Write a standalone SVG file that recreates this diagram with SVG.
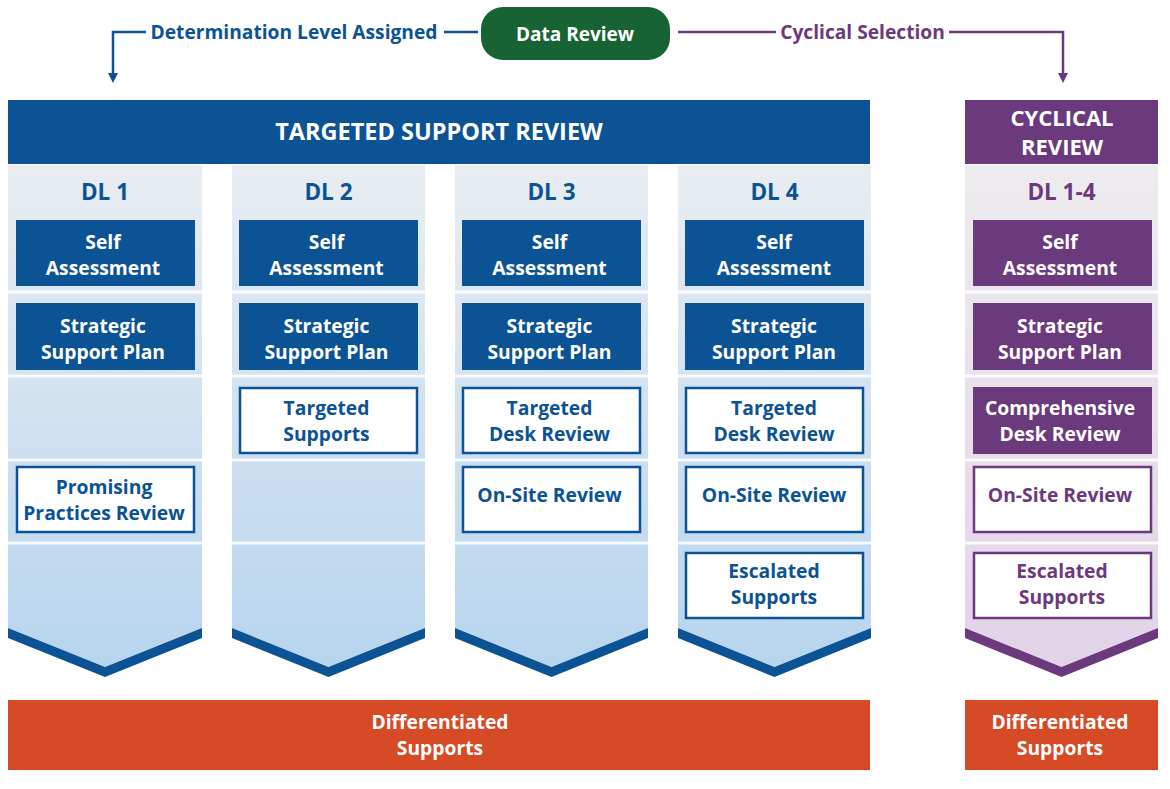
<svg xmlns="http://www.w3.org/2000/svg" width="1170" height="789" viewBox="0 0 1170 789">
<defs>
<linearGradient id="gBlue" x1="0" y1="0" x2="0" y2="1">
<stop offset="0" stop-color="#e9edf2"/>
<stop offset="1" stop-color="#b7d5ef"/>
</linearGradient>
<linearGradient id="gPurple" x1="0" y1="0" x2="0" y2="1">
<stop offset="0" stop-color="#eeecef"/>
<stop offset="1" stop-color="#e2d3e8"/>
</linearGradient>
<style>
text{font-family:"Open Sans","Liberation Sans",sans-serif;font-weight:bold;text-anchor:middle}
.bfill{fill:#0b5394}
.pfill{fill:#6b3a7d}
.bbox{fill:#ffffff;stroke:#0b5394;stroke-width:2.5}
.pbox{fill:#ffffff;stroke:#6b3a7d;stroke-width:2.5}
.wt{fill:#ffffff;font-size:19.3px}
.bt{fill:#0b5394;font-size:19.3px}
.pt{fill:#6b3a7d;font-size:19.3px}
.sep{stroke:#ffffff;stroke-width:3;opacity:0.85}
.dl{font-size:22.5px}
</style>
</defs>
<rect width="1170" height="789" fill="#ffffff"/>

<g id="connectors" fill="none">
<path d="M146,32 H113 V75" stroke="#0b5394" stroke-width="2.5"/>
<path d="M108,73 L118,73 L113,83 Z" fill="#0b5394"/>
<path d="M444,32 H478" stroke="#0b5394" stroke-width="2.5"/>
<path d="M678,32 H776" stroke="#6b3a7d" stroke-width="2.5"/>
<path d="M949,32 H1063 V75" stroke="#6b3a7d" stroke-width="2.5"/>
<path d="M1058,73 L1068,73 L1063,83 Z" fill="#6b3a7d"/>
<text x="294" y="38.5" font-size="19.2" fill="#0b5394">Determination Level Assigned</text>
<text x="862.5" y="38.5" font-size="19.2" fill="#6b3a7d">Cyclical Selection</text>
</g>

<g id="data-review">
<rect x="481" y="7" width="189" height="53" rx="22" fill="#176334"/>
<text x="575" y="41" font-size="19" fill="#ffffff">Data Review</text>
</g>

<g id="targeted-header">
<rect x="8" y="100" width="862" height="64" fill="#0b5394"/>
<text x="439" y="140" font-size="23.5" fill="#ffffff">TARGETED SUPPORT REVIEW</text>
</g>

<g id="cyclical-header">
<rect x="965" y="100" width="193" height="64" fill="#6b3a7d"/>
<text x="1062" y="126" font-size="22" fill="#ffffff">CYCLICAL</text>
<text x="1062" y="155" font-size="22" fill="#ffffff">REVIEW</text>
</g>

<g id="dl1">
<path d="M8,165 H202 V628 L105,667 L8,628 Z" fill="url(#gBlue)"/>
<path d="M8,628 L105,667 L202,628 V638 L105,677 L8,638 Z" class="bfill"/>
<line x1="8" y1="292" x2="202" y2="292" class="sep"/>
<line x1="8" y1="376" x2="202" y2="376" class="sep"/>
<line x1="8" y1="460" x2="202" y2="460" class="sep"/>
<line x1="8" y1="543" x2="202" y2="543" class="sep"/>
<text x="105" y="200" class="bt dl">DL 1</text>
<rect x="16" y="220" width="179" height="66" class="bfill"/>
<text x="103" y="249" class="wt">Self</text>
<text x="103" y="275" class="wt">Assessment</text>
<rect x="16" y="303" width="179" height="67" class="bfill"/>
<text x="103" y="333" class="wt">Strategic</text>
<text x="103" y="359" class="wt">Support Plan</text>
<rect x="17" y="467" width="177" height="65" class="bbox"/>
<text x="104" y="494" class="bt">Promising</text>
<text x="104" y="520" class="bt">Practices Review</text>
</g>

<g id="dl2">
<path d="M232,165 H425 V628 L328.5,667 L232,628 Z" fill="url(#gBlue)"/>
<path d="M232,628 L328.5,667 L425,628 V638 L328.5,677 L232,638 Z" class="bfill"/>
<line x1="232" y1="292" x2="425" y2="292" class="sep"/>
<line x1="232" y1="376" x2="425" y2="376" class="sep"/>
<line x1="232" y1="460" x2="425" y2="460" class="sep"/>
<line x1="232" y1="543" x2="425" y2="543" class="sep"/>
<text x="328.5" y="200" class="bt dl">DL 2</text>
<rect x="239" y="220" width="179" height="66" class="bfill"/>
<text x="326.5" y="249" class="wt">Self</text>
<text x="326.5" y="275" class="wt">Assessment</text>
<rect x="239" y="303" width="179" height="67" class="bfill"/>
<text x="326.5" y="333" class="wt">Strategic</text>
<text x="326.5" y="359" class="wt">Support Plan</text>
<rect x="240" y="388" width="177" height="65" class="bbox"/>
<text x="326.5" y="415" class="bt">Targeted</text>
<text x="326.5" y="441" class="bt">Supports</text>
</g>

<g id="dl3">
<path d="M455,165 H648 V628 L551.5,667 L455,628 Z" fill="url(#gBlue)"/>
<path d="M455,628 L551.5,667 L648,628 V638 L551.5,677 L455,638 Z" class="bfill"/>
<line x1="455" y1="292" x2="648" y2="292" class="sep"/>
<line x1="455" y1="376" x2="648" y2="376" class="sep"/>
<line x1="455" y1="460" x2="648" y2="460" class="sep"/>
<line x1="455" y1="543" x2="648" y2="543" class="sep"/>
<text x="551.5" y="200" class="bt dl">DL 3</text>
<rect x="462" y="220" width="179" height="66" class="bfill"/>
<text x="549.5" y="249" class="wt">Self</text>
<text x="549.5" y="275" class="wt">Assessment</text>
<rect x="462" y="303" width="179" height="67" class="bfill"/>
<text x="549.5" y="333" class="wt">Strategic</text>
<text x="549.5" y="359" class="wt">Support Plan</text>
<rect x="463" y="388" width="177" height="65" class="bbox"/>
<text x="549.5" y="415" class="bt">Targeted</text>
<text x="549.5" y="441" class="bt">Desk Review</text>
<rect x="463" y="467" width="177" height="65" class="bbox"/>
<text x="549.5" y="502" class="bt">On-Site Review</text>
</g>

<g id="dl4">
<path d="M678,165 H871 V628 L774.5,667 L678,628 Z" fill="url(#gBlue)"/>
<path d="M678,628 L774.5,667 L871,628 V638 L774.5,677 L678,638 Z" class="bfill"/>
<line x1="678" y1="292" x2="871" y2="292" class="sep"/>
<line x1="678" y1="376" x2="871" y2="376" class="sep"/>
<line x1="678" y1="460" x2="871" y2="460" class="sep"/>
<line x1="678" y1="543" x2="871" y2="543" class="sep"/>
<text x="774.5" y="200" class="bt dl">DL 4</text>
<rect x="685" y="220" width="179" height="66" class="bfill"/>
<text x="774" y="249" class="wt">Self</text>
<text x="774" y="275" class="wt">Assessment</text>
<rect x="685" y="303" width="179" height="67" class="bfill"/>
<text x="774" y="333" class="wt">Strategic</text>
<text x="774" y="359" class="wt">Support Plan</text>
<rect x="686" y="388" width="177" height="65" class="bbox"/>
<text x="774" y="415" class="bt">Targeted</text>
<text x="774" y="441" class="bt">Desk Review</text>
<rect x="686" y="467" width="177" height="65" class="bbox"/>
<text x="774" y="502" class="bt">On-Site Review</text>
<rect x="686" y="553" width="177" height="65" class="bbox"/>
<text x="774" y="578" class="bt">Escalated</text>
<text x="774" y="604" class="bt">Supports</text>
</g>

<g id="dl1-4">
<path d="M965,165 H1158 V628 L1061.5,667 L965,628 Z" fill="url(#gPurple)"/>
<path d="M965,628 L1061.5,667 L1158,628 V638 L1061.5,677 L965,638 Z" class="pfill"/>
<line x1="965" y1="292" x2="1158" y2="292" class="sep"/>
<line x1="965" y1="376" x2="1158" y2="376" class="sep"/>
<line x1="965" y1="460" x2="1158" y2="460" class="sep"/>
<line x1="965" y1="543" x2="1158" y2="543" class="sep"/>
<text x="1061.5" y="200" class="pt dl">DL 1-4</text>
<rect x="973" y="220" width="179" height="66" class="pfill"/>
<text x="1060" y="249" class="wt">Self</text>
<text x="1060" y="275" class="wt">Assessment</text>
<rect x="973" y="303" width="179" height="67" class="pfill"/>
<text x="1060" y="333" class="wt">Strategic</text>
<text x="1060" y="359" class="wt">Support Plan</text>
<rect x="973" y="387" width="179" height="67" class="pfill"/>
<text x="1060" y="415" class="wt">Comprehensive</text>
<text x="1060" y="441" class="wt">Desk Review</text>
<rect x="974" y="467" width="177" height="65" class="pbox"/>
<text x="1060" y="502" class="pt">On-Site Review</text>
<rect x="974" y="553" width="177" height="65" class="pbox"/>
<text x="1062" y="578" class="pt">Escalated</text>
<text x="1062" y="604" class="pt">Supports</text>
</g>

<g id="differentiated-targeted">
<rect x="8" y="700" width="862" height="70" fill="#d64a25"/>
<text x="440" y="729" font-size="19.3" fill="#ffffff">Differentiated</text>
<text x="440" y="755" font-size="19.3" fill="#ffffff">Supports</text>
</g>
<g id="differentiated-cyclical">
<rect x="965" y="700" width="193" height="70" fill="#d64a25"/>
<text x="1060" y="729" font-size="19.3" fill="#ffffff">Differentiated</text>
<text x="1060" y="755" font-size="19.3" fill="#ffffff">Supports</text>
</g>
</svg>
